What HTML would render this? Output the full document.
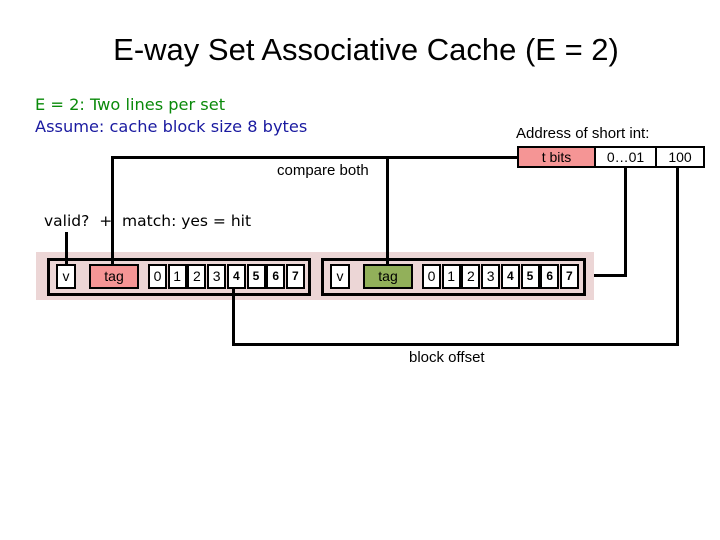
<!DOCTYPE html>
<html><head><style>
body{margin:0;width:720px;height:540px;background:#fff;position:relative;overflow:hidden;font-family:"Liberation Sans",sans-serif}
.t{position:absolute;white-space:nowrap}
.b{position:absolute;box-sizing:border-box;border:2px solid #000;background:#fff;text-align:center;font-size:14px;line-height:21px}
.l{position:absolute;background:#000}
</style></head><body>
<div class="t" style="left:0;width:732px;top:32px;text-align:center;font-size:31px">E-way Set Associative Cache (E = 2)</div>
<div class="t" style="left:35px;top:95px;font-family:'DejaVu Sans',sans-serif;font-size:16.2px;color:#0a8a0a">E = 2: Two lines per set</div>
<div class="t" style="left:35px;top:117px;font-family:'DejaVu Sans',sans-serif;font-size:16.2px;color:#1a1aa0">Assume: cache block size 8 bytes</div>
<div class="t" style="left:516px;top:125px;font-size:15px">Address of short int:</div>
<div class="t" style="left:277px;top:162px;font-size:15px">compare both</div>
<div class="t" style="left:44px;top:212px;font-family:'DejaVu Sans',sans-serif;font-size:15.5px">valid? &nbsp;+ &nbsp;match: yes = hit</div>
<div class="t" style="left:409px;top:349px;font-size:15px">block offset</div>

<div style="position:absolute;left:36px;top:252px;width:558px;height:48px;background:#ecd6d6"></div>
<div style="position:absolute;left:47px;top:258px;width:264px;height:38px;box-sizing:border-box;border:3px solid #000"></div>
<div style="position:absolute;left:321px;top:258px;width:265px;height:38px;box-sizing:border-box;border:3px solid #000"></div>

<div class="b" style="left:56px;top:264px;width:20px;height:25px">v</div>
<div class="b" style="left:89px;top:264px;width:50px;height:25px;background:#f59595">tag</div>
<div class="b" style="left:330px;top:264px;width:20px;height:25px">v</div>
<div class="b" style="left:363px;top:264px;width:50px;height:25px;background:#92b05a">tag</div>
<div id="d1"></div>

<div class="b" style="left:517px;top:146px;width:79px;height:22px;background:#f59595;line-height:18px">t bits</div>
<div class="b" style="left:594px;top:146px;width:63px;height:22px;line-height:18px">0…01</div>
<div class="b" style="left:655px;top:146px;width:50px;height:22px;line-height:18px">100</div>

<div class="l" style="left:111px;top:156px;width:407px;height:3px"></div>
<div class="l" style="left:111px;top:156px;width:3px;height:108px"></div>
<div class="l" style="left:386px;top:156px;width:3px;height:108px"></div>
<div class="l" style="left:65px;top:232px;width:3px;height:32px"></div>
<div class="l" style="left:624px;top:167px;width:3px;height:110px"></div>
<div class="l" style="left:594px;top:274px;width:33px;height:3px"></div>
<div class="l" style="left:676px;top:167px;width:3px;height:179px"></div>
<div class="l" style="left:232px;top:343px;width:447px;height:3px"></div>
<div class="l" style="left:232px;top:289px;width:3px;height:57px"></div>

<script>
var h='';
[148,422].forEach(function(x0){
for(var i=0;i<8;i++){var x=x0+i*19.7;
h+='<div class="b" style="left:'+x+'px;top:264px;width:19px;height:25px;'+(i>=4?'font-weight:bold;font-size:12px;':'')+'">'+i+'</div>';}
});
document.getElementById('d1').innerHTML=h;
</script>
</body></html>
